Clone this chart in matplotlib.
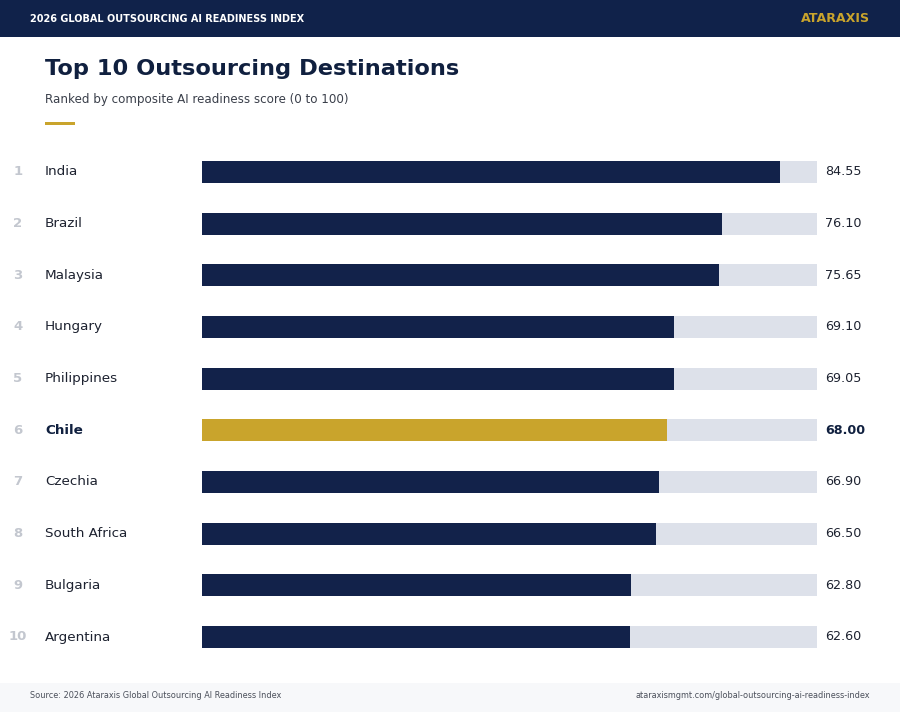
import matplotlib.pyplot as plt
from matplotlib.patches import Rectangle

plt.rcParams['font.family'] = ['DejaVu Sans']

countries = ['India', 'Brazil', 'Malaysia', 'Hungary', 'Philippines',
             'Chile', 'Czechia', 'South Africa', 'Bulgaria', 'Argentina']
scores = [84.55, 76.10, 75.65, 69.10, 69.05, 68.00, 66.90, 66.50, 62.80, 62.60]
highlight = 'Chile'
scale_max = 90

navy = '#12224a'
gold = '#c9a42c'
track = '#dde1ea'

W, H = 900, 712
fig = plt.figure(figsize=(9, 7.12), dpi=100)
fig.patch.set_facecolor('white')

# header band and footer band
fig.patches.append(Rectangle((0, 1 - 37 / H), 1, 37 / H, transform=fig.transFigure,
                             facecolor='#10224a', edgecolor='none', zorder=0))
fig.patches.append(Rectangle((0, 0), 1, 29 / H, transform=fig.transFigure,
                             facecolor='#f7f8fa', edgecolor='none', zorder=0))
fig.patches.append(Rectangle((45 / W, 1 - 125 / H), 30 / W, 3 / H, transform=fig.transFigure,
                             facecolor=gold, edgecolor='none'))

def px(x, y):
    return x / W, 1 - y / H

fig.text(*px(30, 18.5), '2026 GLOBAL OUTSOURCING AI READINESS INDEX', color='white',
         fontsize=7.05, fontweight='bold', va='center', ha='left')
fig.text(*px(870, 18.5), 'ATARAXIS', color=gold, fontsize=9.1, fontweight='bold',
         va='center', ha='right')
fig.text(*px(45, 69), 'Top 10 Outsourcing Destinations', color='#10203f',
         fontsize=16.2, fontweight='bold', va='center', ha='left')
fig.text(*px(45, 99), 'Ranked by composite AI readiness score (0 to 100)', color='#3a3f4a',
         fontsize=8.6, va='center', ha='left')
fig.text(*px(30, 696), 'Source: 2026 Ataraxis Global Outsourcing AI Readiness Index',
         color='#4a4f5a', fontsize=5.9, va='center', ha='left')
fig.text(*px(870, 696), 'ataraxismgmt.com/global-outsourcing-ai-readiness-index',
         color='#4a4f5a', fontsize=5.9, va='center', ha='right')

# bar axes: x from 202px to 817px, rows from 172px to 637px
row_gap = (637 - 172) / 9
top = 172 - row_gap / 2
bottom = 637 + row_gap / 2
ax = fig.add_axes([202 / W, 1 - bottom / H, (817 - 202) / W, (bottom - top) / H])
ax.set_xlim(0, scale_max)
ax.set_ylim(len(countries) - 0.5, -0.5)
ax.axis('off')

bar_h = 22 / row_gap
ypos = list(range(len(countries)))
ax.barh(ypos, [scale_max] * len(countries), height=bar_h, color=track, edgecolor='none')
colors = [gold if c == highlight else navy for c in countries]
ax.barh(ypos, scores, height=bar_h, color=colors, edgecolor='none')

for i, (c, s) in enumerate(zip(countries, scores)):
    hl = c == highlight
    ax.text(-(202 - 18) / 615 * scale_max, i, str(i + 1), color='#c3c7cf', fontsize=9.5,
            fontweight='bold', ha='center', va='center', clip_on=False)
    ax.text(-(202 - 45) / 615 * scale_max, i, c, color='#10203f' if hl else '#1d2230',
            fontsize=9.7, fontweight='bold' if hl else 'normal', ha='left', va='center',
            clip_on=False)
    ax.text(scale_max + 8 / 615 * scale_max, i, f'{s:.2f}', color='#10203f' if hl else '#1d2230',
            fontsize=9.2, fontweight='bold' if hl else 'normal', ha='left', va='center',
            clip_on=False)

fig.savefig('out.png', dpi=100)
